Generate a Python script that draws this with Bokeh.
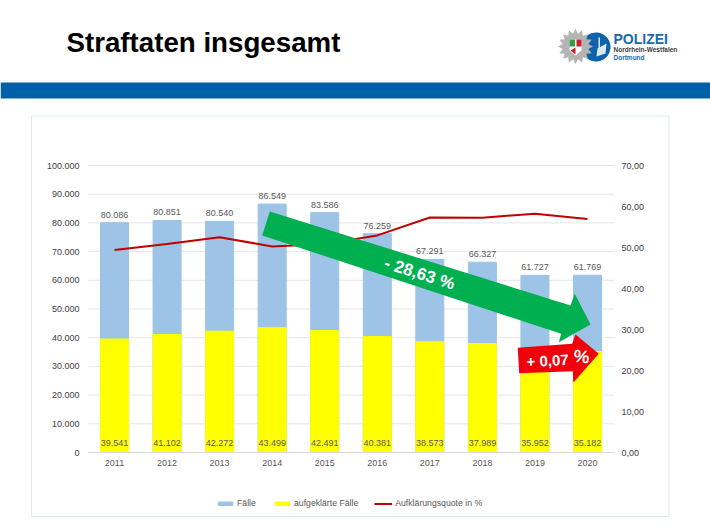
import numpy as np

from bokeh.core.properties import value
from bokeh.embed import file_html
from bokeh.models import ColumnDataSource, FixedTicker, Label, LabelSet, Legend, LegendItem, LinearAxis, PolyAnnotation, Range1d
from bokeh.plotting import figure
from bokeh.resources import INLINE

years = [2011, 2012, 2013, 2014, 2015, 2016, 2017, 2018, 2019, 2020]
faelle = [80086, 80851, 80540, 86549, 83586, 76259, 67291, 66327, 61727, 61769]
aufgeklaert = [39541, 41102, 42272, 43499, 42491, 40381, 38573, 37989, 35952, 35182]
quote = [49.37, 50.84, 52.49, 50.26, 50.84, 52.95, 57.32, 57.27, 58.24, 56.96]

left_ticks = [0, 10000, 20000, 30000, 40000, 50000, 60000, 70000, 80000, 90000, 100000]
left_tick_labels = ['0', '10.000', '20.000', '30.000', '40.000', '50.000', '60.000', '70.000', '80.000', '90.000', '100.000']
right_ticks = [0, 10, 20, 30, 40, 50, 60, 70]
right_tick_labels = ['0,00', '10,00', '20,00', '30,00', '40,00', '50,00', '60,00', '70,00']

FONT = 'Liberation Sans'
GREY = '#595959'
WIDTH, HEIGHT = 710, 532

# the frame fills the whole canvas, since things outside it get clipped.
# ranges are worked out so the chart lands on these pixels
px_per_year = (587 - 114) / 9
px_y0, px_y100 = 452, 165
x_start = 2011 - 114 / px_per_year
x_end = x_start + WIDTH / px_per_year
plot_left = x_start + 88 / px_per_year
plot_right = x_start + 614 / px_per_year
below = (HEIGHT - px_y0) / (px_y0 - px_y100)
above = px_y100 / (px_y0 - px_y100)

def sy(y):
    return [HEIGHT - v for v in y]

def poly(p, x, y, color, line=None, level='overlay'):
    p.add_layout(PolyAnnotation(xs=list(x), ys=sy(y), xs_units='screen', ys_units='screen',
                                fill_color=color, fill_alpha=1, line_color=line or color,
                                line_alpha=1 if line else 0, line_width=1, level=level))

def text(p, x, y, s, size, color, bold=False, align='left', angle=0):
    p.add_layout(Label(x=x, y=HEIGHT - y, x_units='screen', y_units='screen', text=s,
                       text_font=FONT, text_font_size=size, text_color=color,
                       text_font_style='bold' if bold else 'normal', text_align=align,
                       text_baseline='middle', angle=angle, angle_units='deg', level='overlay'))

source = ColumnDataSource(dict(
    year=years, faelle=faelle, aufgeklaert=aufgeklaert, quote=quote,
    faelle_text=[f'{v / 1000:.3f}' for v in faelle],
    aufgeklaert_text=[f'{v / 1000:.3f}' for v in aufgeklaert],
    zero=[0] * len(years),
))

p = figure(width=WIDTH, height=HEIGHT, x_range=Range1d(x_start, x_end),
           y_range=Range1d(-below * 100000, (1 + above) * 100000),
           output_backend='svg', toolbar_location=None,
           min_border_left=0, min_border_right=0, min_border_top=0, min_border_bottom=0)
p.outline_line_color = None
p.extra_y_ranges = {'quote': Range1d(-below * 70, (1 + above) * 70)}
p.xgrid.visible = False
p.ygrid.visible = False

# page furniture: card and blue band
poly(p, [31, 668.5, 668.5, 31], [115.5, 115.5, 516, 516], '#ffffff', '#dfe9ec', level='underlay')
poly(p, [0, WIDTH, WIDTH, 0], [82, 82, 98, 98], '#0060a8', level='underlay')

p.segment(x0=plot_left, x1=plot_right, y0=left_ticks[1:], y1=left_ticks[1:], color='#e6e6e6', line_width=1)

bars = p.vbar(x='year', top='faelle', width=0.533, source=source, color='#9dc3e6')
yellow = p.vbar(x='year', top='aufgeklaert', width=0.533, source=source, color='#ffff00')
line = p.line(x='year', y='quote', source=source, y_range_name='quote', color='#c00000', line_width=2)

xaxis = p.xaxis[0]
xaxis.ticker = FixedTicker(ticks=years)
xaxis.fixed_location = 0
xaxis.bounds = (plot_left, plot_right)

yaxis = p.yaxis[0]
yaxis.ticker = FixedTicker(ticks=left_ticks)
yaxis.major_label_overrides = dict(zip(left_ticks, left_tick_labels))
yaxis.fixed_location = plot_left
yaxis.bounds = (0, 100000)

right = LinearAxis(y_range_name='quote', ticker=FixedTicker(ticks=right_ticks),
                   major_label_overrides=dict(zip(right_ticks, right_tick_labels)),
                   fixed_location=plot_right, bounds=(0, 70))
p.add_layout(right, 'right')

for ax in [yaxis, right, xaxis]:
    ax.major_tick_line_color = None
    ax.minor_tick_line_color = None
    ax.axis_line_color = None
    ax.major_label_text_font = FONT
    ax.major_label_text_font_size = '9px'
    ax.major_label_text_color = '#404040'
xaxis.axis_line_color = '#d9d9d9'
xaxis.major_label_text_color = GREY
xaxis.major_label_standoff = 1
yaxis.major_label_standoff = 3
right.major_label_standoff = 1

p.add_layout(LabelSet(x='year', y='faelle', text='faelle_text', source=source, y_offset=5,
                      text_align='center', text_baseline='bottom', text_font=value(FONT),
                      text_font_size='9px', text_color=GREY))
p.add_layout(LabelSet(x='year', y='zero', text='aufgeklaert_text', source=source, y_offset=9.5,
                      text_align='center', text_baseline='middle', text_font=value(FONT),
                      text_font_size='9px', text_color=GREY))

legend = Legend(items=[LegendItem(label='Fälle', renderers=[bars]),
                       LegendItem(label='aufgeklärte Fälle', renderers=[yellow]),
                       LegendItem(label='Aufklärungsquote in %', renderers=[line])],
                orientation='horizontal', location=(216, 24), background_fill_alpha=0,
                border_line_color=None, glyph_width=18, glyph_height=5, label_standoff=3,
                spacing=16, padding=6, margin=0, label_text_font=FONT,
                label_text_font_size='8.7px', label_text_color=GREY, label_height=8)
p.add_layout(legend, 'center')

# arrows drawn on top of the chart
poly(p, [269.3, 570, 574.3, 590, 558.3, 560.7, 261.7], [211, 305, 293.3, 324, 341.7, 333.3, 235], '#00b050')
poly(p, [517.3, 571.7, 575, 598.3, 572.7, 572.3, 518.7], [347.3, 343.3, 334, 353.3, 382.3, 370.7, 372.7], '#f0000a')
text(p, 419, 273, '- 28,63 %', '17px', '#ffffff', bold=True, align='center', angle=-17.5)
text(p, 547, 360, '+ 0,07', '15px', '#ffffff', bold=True, align='center', angle=3)
text(p, 581, 356, '%', '18px', '#ffffff', bold=True, align='center', angle=-6)

# heading and logo
text(p, 66, 42, 'Straftaten insgesamt', '27.7px', '#000000', bold=True)

circle_angle = np.linspace(0, 2 * np.pi, 60)
poly(p, 595.5 + 14.5 * np.cos(circle_angle), list(46.5 + 14.5 * np.sin(circle_angle)), '#0f62ac')
star_angle = np.linspace(0, 2 * np.pi, 33)[:-1]
star_r = np.where(np.arange(32) % 2 == 0, 17.5, 13)
poly(p, 575 + star_r * np.cos(star_angle), list(46 + star_r * np.sin(star_angle)), '#b4b4b4')
poly(p, [569, 581, 581, 575, 569], [39, 39, 50, 55, 50], '#ffffff')
poly(p, [569, 574.5, 574.5, 569], [39, 39, 46, 46], '#2f9e44')
poly(p, [576, 581, 581, 576], [39, 39, 46, 46], '#c8202c')
poly(p, [570, 575, 575], [50, 47, 54], '#c8202c')
poly(p, [597, 606, 605, 596], [48, 43, 53, 56], '#dbe9f5')
poly(p, [598, 599.5, 599.5, 598], [37, 37, 48, 48], '#dbe9f5')

text(p, 613, 38.5, 'POLIZEI', '14px', '#1a6ab0', bold=True)
text(p, 613, 48.5, 'Nordrhein-Westfalen', '6.5px', '#404040', bold=True)
text(p, 613, 56.5, 'Dortmund', '6.5px', '#1a6ab0', bold=True)

open('out.html', 'w').write(file_html(p, INLINE))
